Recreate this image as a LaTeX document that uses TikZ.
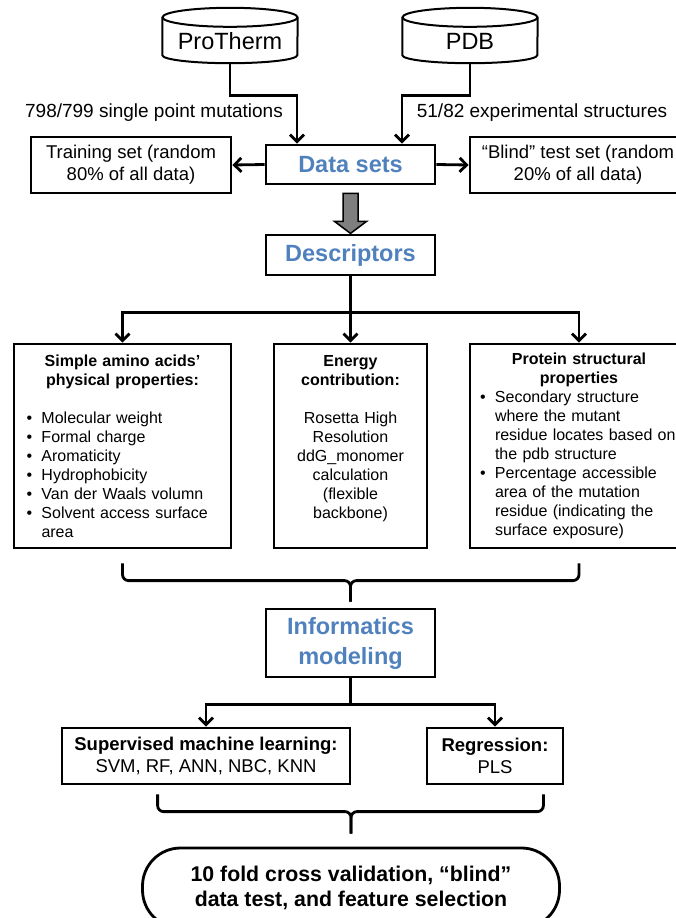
\documentclass[tikz,border=0pt]{standalone}
\usepackage{fontspec}
\setmainfont{Liberation Sans}
\usepackage{xcolor}
\usetikzlibrary{positioning, arrows.meta, calc}
\definecolor{titleblue}{HTML}{4F81BD}
\definecolor{arrowgray}{HTML}{7F7F7F}
\newcommand{\bitem}[1]{\hangindent=15pt\hangafter=1\noindent\makebox[15pt][l]{\textbullet}#1\par}

\begin{document}
\begin{tikzpicture}[x=1pt, y=-1pt,
    box/.style={draw, line width=2.8pt, align=center, inner sep=0pt},
    titlebox/.style={box, text=titleblue, minimum width=169pt,
                     font=\fontsize{23.5}{30}\selectfont\bfseries},
    setbox/.style={box, minimum width=200pt, minimum height=56pt,
                   font=\fontsize{18.5}{22}\selectfont},
    descbox/.style={draw, line width=2.8pt, inner sep=0pt, minimum height=204pt,
                    font=\fontsize{16}{19}\selectfont},
    dbtext/.style={minimum width=135pt, minimum height=55pt, inner sep=0pt,
                   text height=28pt, text depth=0pt, font=\fontsize{23.5}{28}\selectfont},
    dbline/.style={line width=2pt},
    lbl/.style={font=\fontsize{19}{22}\selectfont},
    conn/.style={line width=2.8pt},
    arr/.style={conn, -{Straight Barb[length=7pt, width=14pt]}},
    brace/.style={conn, rounded corners=6pt}
  ]
    \useasboundingbox (0,0) rectangle (676,918);
    \clip (0,0) rectangle (676,918);

    % databases
    \node[dbtext] (protherm) at (230,35.5) {ProTherm};
    \node[dbtext] (pdb) at (470,35.5) {PDB};
    \foreach \db in {protherm, pdb} {
        \draw[dbline] ($(\db.north west)+(0,9.5)$) -- ($(\db.south west)+(0,-8)$)
            arc[start angle=180, end angle=0, x radius=67.5, y radius=8]
            -- ($(\db.north east)+(0,9.5)$);
        \draw[dbline] ($(\db.north)+(0,9.5)$) ellipse[x radius=67.5, y radius=9.5];
    }
    \node[lbl] (mutlbl) at (154,113) {798/799 single point mutations};
    \node[lbl] (strlbl) at (542,113) {51/82 experimental structures};

    % data sets
    \node[titlebox, minimum height=39pt] (datasets) at (350.5,164.5) {Data sets};
    \node[setbox] (training) at (131,165) {Training set (random\\80\% of all data)};
    \node[setbox, minimum width=216pt] (blind) at (578,165) {“Blind” test set (random\\20\% of all data)};
    \draw[arr] (protherm.south) -- ++(0,32) -| ([xshift=-53.5pt]datasets.north);
    \draw[arr] (pdb.south) -- ++(0,32) -| ([xshift=51.5pt]datasets.north);
    \draw[arr] (datasets.west) -- (training.east);
    \draw[arr] (datasets.east) -- (blind.west);

    % descriptors
    \node[titlebox, minimum height=40pt] (descriptors) at (350.5,255) {Descriptors};
    \draw[line width=1.5pt, fill=arrowgray]
        ($(datasets.south)+(-7.5,8)$) -- ($(datasets.south)+(-7.5,36)$)
        -- ($(datasets.south)+(-16,36)$) -- ($(datasets.south)+(0,48)$)
        -- ($(datasets.south)+(16,36)$) -- ($(datasets.south)+(7.5,36)$)
        -- ($(datasets.south)+(7.5,8)$) -- cycle;

    \node[descbox, minimum width=217pt, text width=192pt] (simple) at (122.5,446) {%
        {\centering\bfseries Simple amino acids’\\physical properties:\par}
        \vspace{19pt}
        \raggedright
        \bitem{Molecular weight}
        \bitem{Formal charge}
        \bitem{Aromaticity}
        \bitem{Hydrophobicity}
        \bitem{Van der Waals volumn}
        \bitem{Solvent access surface\newline area}};
    \node[descbox, minimum width=153pt, text width=140pt, align=center] (energy) at (350.5,446) {%
        {\bfseries Energy\\contribution:}\\[19pt]
        Rosetta High\\Resolution\\ddG\_monomer\\calculation\\(flexible\\backbone)\\ \mbox{}};
    \node[descbox, minimum width=218pt, text width=198pt] (protstruct) at (579,446) {%
        {\centering\bfseries Protein structural\\properties\par}
        \raggedright
        \bitem{Secondary structure\newline where the mutant\newline residue locates based on\newline the pdb structure}
        \bitem{Percentage accessible\newline area of the mutation\newline residue (indicating the\newline surface exposure)}};
    \coordinate (descfork) at ($(descriptors.south)+(0,36)$);
    \draw[conn] (descriptors.south) -- (descfork);
    \draw[arr] (descfork) -| (simple.north);
    \draw[arr] (descfork) -| (protstruct.north);
    \draw[arr] (descfork) -- (energy.north);

    % modeling
    \node[titlebox, minimum height=68pt] (informatics) at (350.5,643) {Informatics\\modeling};
    \draw[brace] ($(simple.south)+(0,14)$) |- ($(informatics.north)+(0,-27)$)
        -- ($(informatics.north)+(0,-6)$);
    \draw[brace] ($(protstruct.south)+(0,14)$) |- ($(informatics.north)+(0,-27)$)
        -- ($(informatics.north)+(0,-6)$);

    \node[setbox, minimum width=288pt] (supervised) at (206,756)
        {\bfseries Supervised machine learning:\\SVM, RF, ANN, NBC, KNN};
    \node[setbox, minimum width=136pt] (regression) at (495,756)
        {\bfseries Regression:\\PLS};
    \coordinate (modfork) at ($(informatics.south)+(0,26)$);
    \draw[conn] (informatics.south) -- (modfork);
    \draw[arr] (modfork) -| (supervised.north);
    \draw[arr] (modfork) -| (regression.north);

    % validation
    \node[draw, line width=2.8pt, rounded corners=38pt, minimum width=417pt, minimum height=80pt,
          align=center, font=\fontsize{21.3}{25}\selectfont\bfseries] (validation) at (351,888)
        {10 fold cross validation, “blind”\\data test, and feature selection};
    \draw[brace] ($(supervised.south west)+(97,9)$) |- ($(validation.north)+(0,-35)$)
        -- ($(validation.north)+(0,-13)$);
    \draw[brace] ($(regression.south east)+(-21,9)$) |- ($(validation.north)+(0,-35)$)
        -- ($(validation.north)+(0,-13)$);
\end{tikzpicture}
\end{document}
